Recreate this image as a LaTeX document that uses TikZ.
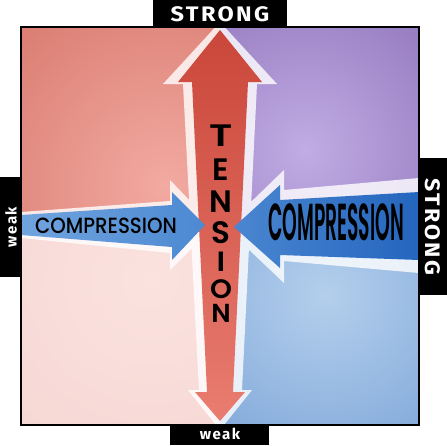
\documentclass[tikz,border=0pt]{standalone}
\usepackage{fontspec}
\setmainfont{Poppins}
\newfontfamily\geomed{Poppins Medium}
\newfontfamily\geosemi{Poppins SemiBold}
\newfontfamily\tagfont[LetterSpace=10]{Fira Sans}
\usetikzlibrary{calc}

\definecolor{tlin}{HTML}{F2AAA1}
\definecolor{tlout}{HTML}{D97A6F}
\definecolor{trin}{HTML}{C1ACE4}
\definecolor{trout}{HTML}{8A6EB6}
\definecolor{blin}{HTML}{FBE2DF}
\definecolor{blout}{HTML}{F1CDC9}
\definecolor{brin}{HTML}{B4CFEC}
\definecolor{brout}{HTML}{76A0D6}
\definecolor{redtop}{HTML}{CA473A}
\definecolor{redbot}{HTML}{E97C70}
\definecolor{leftblueA}{HTML}{70A4DE}
\definecolor{leftblueB}{HTML}{4C89D2}
\definecolor{rightblueA}{HTML}{4A86D0}
\definecolor{rightblueB}{HTML}{2465BE}

\begin{document}
\begin{tikzpicture}[x=1pt,y=-1pt,
  tagtext/.style={text=white,inner sep=0pt},
  letter/.style={font=\geosemi\fontsize{31}{31}\selectfont,inner sep=0pt}]
			%%%%% START %%%%%
			\useasboundingbox (0,0) rectangle (447,445);

			% quadrants
			\begin{scope}
			\clip (21,27) rectangle (220,226);
			\shade[inner color=tlin, outer color=tlout] (165,185) circle (230pt);
			\end{scope}
			\begin{scope}
			\clip (220,27) rectangle (419,226);
			\shade[inner color=trin, outer color=trout] (305,150) circle (220pt);
			\end{scope}
			\begin{scope}
			\clip (21,226) rectangle (220,425);
			\shade[inner color=blin, outer color=blout] (150,280) circle (400pt);
			\end{scope}
			\begin{scope}
			\clip (220,226) rectangle (419,425);
			\shade[inner color=brin, outer color=brout] (325,295) circle (220pt);
			\end{scope}

			% pale outlines of the three arrows
			\begin{scope}
			\clip (21,27) rectangle (419,425);
			\fill[white, opacity=0.8]
			  (220,22) -- (277,84) -- (257,84) -- (242,390) -- (252,390) -- (220,430)
			  -- (188,390) -- (199,390) -- (183,84) -- (163,84) -- cycle
			  (21,212) -- (170,201) -- (170,180) -- (214,226) -- (170,270) -- (170,253)
			  -- (21,238) -- cycle
			  (419,178) -- (419,273) -- (284,261) -- (284,283) -- (225,227)
			  -- (284,170) -- (284,190) -- cycle;
			\end{scope}

			% tension
			\shade[top color=redtop, bottom color=redbot]
			  (220,30) -- (262,82) -- (248,82) -- (233,392) -- (245,392) -- (220,421)
			  -- (195,392) -- (207,392) -- (192,82) -- (178,82) -- cycle;

			% compression
			\shade[left color=leftblueA, right color=leftblueB]
			  (21,215) -- (172,205) -- (172,192) -- (205,225) -- (172,260) -- (172,247)
			  -- (21,235) -- cycle;
			\shade[left color=rightblueA, right color=rightblueB]
			  (419,192) -- (280,200) -- (280,185) -- (234,227) -- (280,268) -- (280,255)
			  -- (419,260) -- cycle;

			% words on the arrows
			\foreach \ch/\y/\s/\t [count=\i] in {T/136/1.3/1,E/170/1/1,N/202/1/1,S/233/1/1,I/262/1/.9,O/289/.9/.86,N/313/.85/.84}
			  \node[letter, xscale=\s, yscale=\t] (tension\i) at (221,\y) {\ch};
			\node[font=\geomed\fontsize{22}{22}\selectfont, xscale=0.9, inner sep=0pt] (leftword) at (106,226) {COMPRESSION};
			\node[font=\geosemi\fontsize{52}{52}\selectfont, xscale=0.36, inner sep=0pt] (rightword) at (336,222) {COMPRESSION};

			% frame and tags
			\draw[line width=2pt] (21,27) rectangle (419,425);
			\fill (153,0) rectangle (287,27);
			\fill (170,424) rectangle (269,445);
			\fill (0,177) rectangle (21,277);
			\fill (419,158) rectangle (447,295);
			\node[tagtext, font=\tagfont\bfseries\fontsize{21}{21}\selectfont, xscale=1.12] (topstrong) at (220,14) {STRONG};
			\node[tagtext, font=\tagfont\bfseries\fontsize{15}{15}\selectfont] (bottomweak) at (220,434) {weak};
			\node[tagtext, font=\tagfont\bfseries\fontsize{15}{15}\selectfont, rotate=90] (leftweak) at (11,227) {weak};
			\node[tagtext, font=\tagfont\bfseries\fontsize{21}{21}\selectfont, yscale=1.1, rotate=-90] (rightstrong) at (433,227) {STRONG};
			%%%%% END %%%%%
\end{tikzpicture}
\end{document}
